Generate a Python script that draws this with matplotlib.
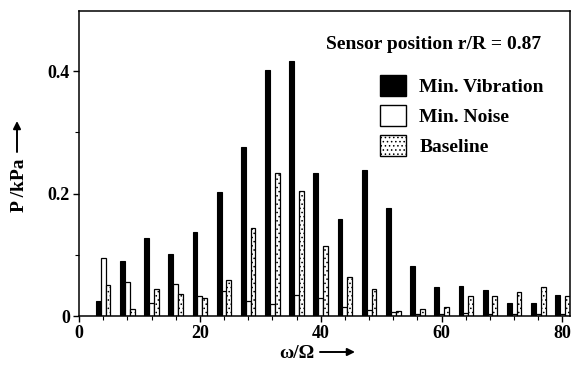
import matplotlib.pyplot as plt
import numpy as np
from matplotlib.patches import Patch
from matplotlib.ticker import MultipleLocator

plt.rcParams['font.family'] = ['Liberation Serif', 'DejaVu Serif']
plt.rcParams['font.weight'] = 'bold'
plt.rcParams['hatch.color'] = '0.45'
plt.rcParams['hatch.linewidth'] = 0.6

# harmonic orders (omega / Omega)
orders = np.arange(4, 81, 4)

# pressure amplitude in kPa at r/R = 0.87
min_vibration = [0.024, 0.090, 0.128, 0.101, 0.137, 0.202, 0.276, 0.402, 0.417, 0.234,
                 0.158, 0.238, 0.176, 0.082, 0.047, 0.049, 0.042, 0.021, 0.021, 0.034]
min_noise = [0.095, 0.056, 0.022, 0.052, 0.032, 0.041, 0.024, 0.019, 0.034, 0.029,
             0.015, 0.010, 0.006, 0.004, 0.004, 0.005, 0.004, 0.004, 0.004, 0.004]
baseline = [0.050, 0.012, 0.044, 0.036, 0.030, 0.058, 0.143, 0.233, 0.204, 0.114,
            0.063, 0.044, 0.008, 0.011, 0.014, 0.032, 0.032, 0.039, 0.047, 0.032]

fig = plt.figure(figsize=(5.74, 3.66), dpi=100)
ax = fig.add_axes([0.1376, 0.1366, 0.855, 0.833])

w = 0.8
ax.bar(orders - 0.8, min_vibration, w, color='black', edgecolor='black', lw=0.8)
ax.bar(orders, min_noise, w, color='white', edgecolor='black', lw=0.9)
ax.bar(orders + 0.8, baseline, w, color='white', edgecolor='black', lw=0.9, hatch='....')

ax.set_xlim(0, 81.2)
ax.set_ylim(0, 0.498)
ax.set_xticks([0, 20, 40, 60, 80])
ax.xaxis.set_minor_locator(MultipleLocator(4))
ax.set_yticks([0, 0.2, 0.4])
ax.set_yticklabels(['0', '0.2', '0.4'])
ax.yaxis.set_minor_locator(MultipleLocator(0.1))
ax.tick_params(which='major', direction='out', length=4.5, width=1, labelsize=13, pad=2)
ax.tick_params(which='minor', direction='out', length=3, width=0.8)
for s in ax.spines.values():
    s.set_linewidth(1.1)

# axis labels with arrows pointing along the axes
fig.text(297 / 574, 1 - 353 / 366, 'ω/Ω', ha='center', va='center', fontsize=14)
ax.annotate('', xy=(355 / 574, 1 - 352 / 366), xytext=(320 / 574, 1 - 352 / 366),
            xycoords='figure fraction', textcoords='figure fraction',
            arrowprops=dict(arrowstyle='-|>', lw=1.4, color='black',
                            mutation_scale=11, shrinkA=0, shrinkB=0))
fig.text(20 / 574, 1 - 185 / 366, 'P /kPa', ha='center', va='center',
         rotation=90, fontsize=14)
ax.annotate('', xy=(17 / 574, 1 - 121 / 366), xytext=(17 / 574, 1 - 152 / 366),
            xycoords='figure fraction', textcoords='figure fraction',
            arrowprops=dict(arrowstyle='-|>', lw=1.4, color='black',
                            mutation_scale=11, shrinkA=0, shrinkB=0))

ax.text(0.723, 0.892, 'Sensor position r/R = 0.87', transform=ax.transAxes,
        ha='center', va='center', fontsize=14)

handles = [Patch(facecolor='black', edgecolor='black'),
           Patch(facecolor='white', edgecolor='black'),
           Patch(facecolor='white', edgecolor='black', hatch='....')]
ax.legend(handles, ['Min. Vibration', 'Min. Noise', 'Baseline'],
          loc='upper left', bbox_to_anchor=(0.613, 0.79), frameon=False,
          fontsize=14, handlelength=1.34, handleheight=1.3, handletextpad=0.7,
          labelspacing=0.45, borderaxespad=0, borderpad=0)

fig.savefig('out.png', dpi=100)
